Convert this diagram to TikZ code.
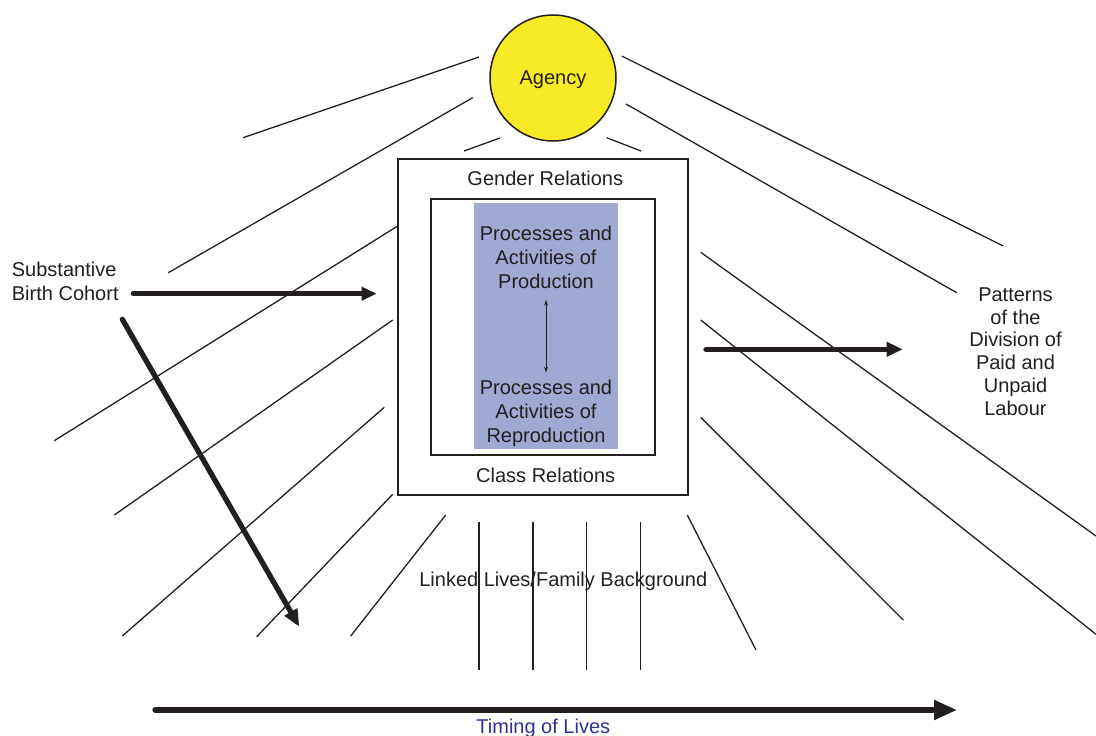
\documentclass[tikz,border=0pt]{standalone}
\usepackage{fontspec}
\setmainfont{Liberation Sans}
\usetikzlibrary{arrows.meta}
\definecolor{ink}{HTML}{231F20}
\definecolor{agencyyel}{HTML}{F7EA26}
\definecolor{procblue}{HTML}{A0A8D4}
\definecolor{timeblue}{HTML}{2E3192}
\tikzset{
  ray/.style={line width=1.3pt,ink},
  bigarr/.style={-{Triangle[length=15pt,width=13pt]},line width=5.3pt,line cap=round,ink},
  boxln/.style={draw=ink,line width=2pt,inner sep=0pt},
  lbl/.style={font=\fontsize{20}{24}\selectfont,text=ink,inner sep=0pt},
  dbl/.style={{Stealth[length=6pt,width=4pt]}-{Stealth[length=6pt,width=4pt]},line width=1pt,ink},
}
\begin{document}
\begin{tikzpicture}[x=1pt,y=-1pt]
  \useasboundingbox (0,0) rectangle (1096,736);
  % rays round the relations box
  \foreach \xa/\ya/\xb/\yb in {243/137.7/479/57, 168.3/272.7/472.7/97.7, 464/151/500/138,
      54.3/440.7/397.7/226, 114.3/515/392.7/320, 122.3/636/384.3/407.3,
      256.7/636.7/392.7/494.3, 350.7/636/445.7/515,
      687.3/515/756/650, 700.7/417.3/903.3/620, 700.7/320/1096/634.3,
      700.7/252.3/1096/536, 621.7/56/1003.3/246, 626/104/956.7/292.7, 606.7/137.7/641/151}
    \draw[ray] (\xa,\ya) -- (\xb,\yb);
  \foreach \x in {479,533,586.7,640.3}
    \draw[ray] (\x,521.7) -- (\x,670);

  \node[circle,draw=ink,line width=1.5pt,fill=agencyyel,minimum size=126pt,lbl,text depth=0pt]
    (agency) at (553,78) {Agency};

  \node[boxln,minimum width=290pt,minimum height=336pt] (outer) at (542.9,327) {};
  \node[boxln,minimum width=223.7pt,minimum height=256pt] (inner) at (542.9,326.7) {};
  \node[fill=procblue,minimum width=144pt,minimum height=245.7pt,inner sep=0pt] (proc) at (546,325.9) {};

  \node[lbl,anchor=base] (gender) at (545.3,185) {Gender Relations};
  \node[lbl,anchor=base] (class) at (545.7,482.3) {Class Relations};
  \node[lbl,align=center] (prod) at (546,257.3) {Processes and\\Activities of\\Production};
  \node[lbl,align=center] (repro) at (546,413.2) {Processes and\\Activities of\\Reproduction};
  \draw[dbl] ([yshift=-11pt]prod.south) -- ([yshift=7pt]repro.north);

  \node[lbl,align=left,anchor=west] (cohort) at (11.7,281) {Substantive\\Birth Cohort};
  \node[lbl,align=center,font=\fontsize{20}{22.86}\selectfont] (labour) at (1015.5,351.6)
    {Patterns\\of the\\Division of\\Paid and\\Unpaid\\Labour};
  \node[lbl,anchor=base] (linked) at (563.3,586) {Linked Lives/Family Background};
  \node[lbl,anchor=base,text=timeblue] (timing) at (543.3,733.3) {Timing of Lives};

  % thick arrows
  \coordinate (cohA) at (133.3,293.7);
  \coordinate (cohB) at (376.7,293.7);
  \coordinate (cohC) at (122.3,319.3);
  \coordinate (cohD) at (299.3,626.7);
  \coordinate (divA) at (706,349.3);
  \coordinate (divB) at (902.7,349.3);
  \coordinate (timA) at (155,710);
  \coordinate (timB) at (957,710);
  \draw[bigarr] (cohA) -- (cohB);
  \draw[bigarr,-{Triangle[length=17pt,width=14pt]}] (cohC) -- (cohD);
  \draw[bigarr,-{Triangle[length=16pt,width=14pt]}] (divA) -- (divB);
  \draw[bigarr,-{Triangle[length=23pt,width=19pt]}] (timA) -- (timB);
\end{tikzpicture}
\end{document}
